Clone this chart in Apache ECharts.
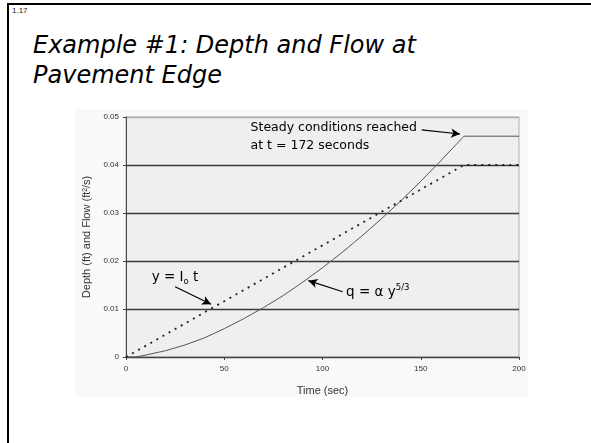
<!DOCTYPE html>
<html>
<head>
<meta charset="utf-8">
<script src="https://cdn.jsdelivr.net/npm/echarts@6/dist/echarts.min.js"></script>
<style>
  html, body { margin: 0; padding: 0; background: #fff; }
  #frame { position: absolute; left: 7px; top: 3px; width: 600px; height: 460px;
           border-left: 2px solid #000; border-top: 2px solid #000; }
  #num { position: absolute; left: 12px; top: 6px; font: 8px "Liberation Sans", Arial, sans-serif; color: #222; }
  #title { position: absolute; left: 33px; top: 30px; font: italic 24px "DejaVu Sans", Verdana, sans-serif;
           line-height: 30px; color: #000; }
  #chart { position: absolute; left: 0; top: 0; width: 591px; height: 443px; }
</style>
</head>
<body>
<div id="frame"></div>
<div id="num">1.17</div>
<div id="title">Example #1: Depth and Flow at<br>Pavement Edge</div>
<div id="chart"></div>
<script>
// time (sec) and values
const flowTime = [0, 5, 10, 20, 30, 40, 50, 60, 70, 80, 90, 100, 110, 120, 130, 140, 150, 160, 172, 200]
const flowVals = [0, 0, 0.0004, 0.0013, 0.0025, 0.0040, 0.0059, 0.0080, 0.0103, 0.0128, 0.0156, 0.0186, 0.0218, 0.0252, 0.0288, 0.0326, 0.0366, 0.0408, 0.046, 0.046]
const depthTime = [0, 172, 200]
const depthVals = [0, 0.04, 0.04]
const yTicks = ['0', '0.01', '0.02', '0.03', '0.04', '0.05']

const chart = echarts.init(document.getElementById('chart'))

const labelFont = 'Liberation Sans'
const noteFont = 'DejaVu Sans'

const option = {
    animation: false,
    graphic: [
        { type: 'rect', shape: { x: 75, y: 109, width: 453, height: 288 }, style: { fill: '#f9f9f9' }, z: -10 }
    ],
    grid: {
        left: 126, top: 117, right: 72, bottom: 86,
        show: true, backgroundColor: '#efefef', borderColor: '#b0b0b0', borderWidth: 1
    },
    xAxis: {
        type: 'value', min: 0, max: 200, interval: 50,
        name: 'Time (sec)', nameLocation: 'middle', nameGap: 28,
        nameTextStyle: { fontFamily: labelFont, fontSize: 11, color: '#333' },
        axisLine: { lineStyle: { color: '#444', width: 1 } },
        axisTick: { show: true, length: 3, lineStyle: { color: '#444' } },
        axisLabel: { fontFamily: labelFont, fontSize: 8, color: '#333', margin: 8 },
        splitLine: { show: false }
    },
    yAxis: {
        type: 'value', min: 0, max: 0.05, interval: 0.01,
        name: 'Depth (ft) and Flow (ft²/s)', nameLocation: 'middle', nameGap: 34, nameRotate: 90,
        nameTextStyle: { fontFamily: labelFont, fontSize: 11, color: '#333' },
        axisLine: { show: true, lineStyle: { color: '#444', width: 1 } },
        axisTick: { show: true, length: 3, lineStyle: { color: '#444' } },
        axisLabel: {
            fontFamily: labelFont, fontSize: 8, color: '#333', margin: 7,
            formatter: (v) => yTicks[Math.round(v * 100)]
        },
        splitLine: { show: true, lineStyle: { color: ['#3a3a3a', '#3a3a3a', '#3a3a3a', '#3a3a3a', '#3a3a3a', '#b0b0b0'], width: 1.4 } }
    },
    series: [
        {
            name: 'q', type: 'line', symbol: 'none',
            data: flowTime.map((t, i) => [t, flowVals[i]]),
            lineStyle: { color: '#555', width: 1 },
            markLine: {
                silent: true, symbolSize: [7, 9],
                lineStyle: { color: '#000', width: 1.2, type: 'solid' },
                label: { show: false },
                data: [
                    [{ coord: [150.5, 0.0473], symbol: 'none' }, { coord: [170, 0.04646], symbol: 'arrow' }],
                    [{ coord: [110.3, 0.0136], symbol: 'none' }, { coord: [92.8, 0.0159], symbol: 'arrow' }],
                    [{ coord: [25, 0.01465], symbol: 'none' }, { coord: [43.3, 0.01098], symbol: 'arrow' }]
                ]
            },
            markPoint: {
                silent: true, symbol: 'circle', symbolSize: 0,
                data: [
                    {
                        coord: [63.4, 0.0458],
                        label: { show: true, position: 'right', distance: 0, formatter: 'Steady conditions reached\nat t = 172 seconds',
                            fontFamily: noteFont, fontSize: 12.5, lineHeight: 18, color: '#000', align: 'left' }
                    },
                    {
                        coord: [112, 0.0134],
                        label: { show: true, position: 'right', distance: 0, formatter: '{a|q = α y}{s|5/3}',
                            rich: {
                                a: { fontFamily: noteFont, fontSize: 13.5, color: '#000' },
                                s: { fontFamily: noteFont, fontSize: 8.5, color: '#000', verticalAlign: 'top', padding: [0, 0, 10, 0] }
                            } }
                    },
                    {
                        coord: [13.1, 0.01646],
                        label: { show: true, position: 'right', distance: 0, formatter: '{a|y = I}{s|o}{a| t}',
                            rich: {
                                a: { fontFamily: noteFont, fontSize: 13.5, color: '#000' },
                                s: { fontFamily: noteFont, fontSize: 8.5, color: '#000', padding: [8, 0, 0, 0] }
                            } }
                    }
                ]
            }
        },
        {
            name: 'y', type: 'line', symbol: 'none',
            data: depthTime.map((t, i) => [t, depthVals[i]]),
            lineStyle: { color: '#222', width: 1.8, type: [2, 5] }
        }
    ]
}

chart.setOption(option)
</script>
</body>
</html>
